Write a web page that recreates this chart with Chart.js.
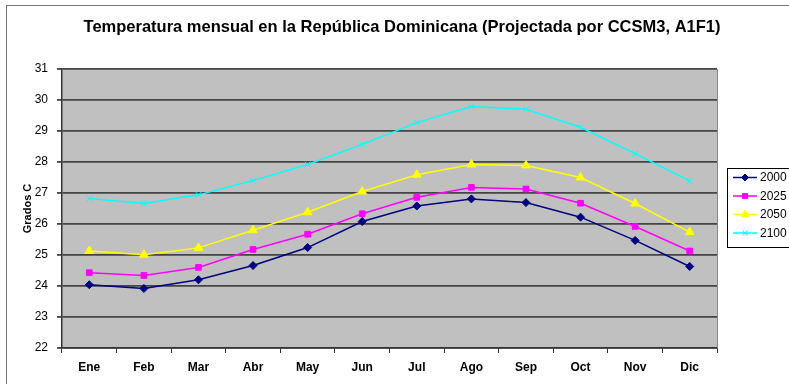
<!DOCTYPE html>
<html>
<head>
<meta charset="utf-8">
<script src="https://cdn.jsdelivr.net/npm/chart.js"></script>
<style>
  html, body { margin: 0; padding: 0; background: #fff; }
  #wrap { width: 789px; height: 384px; }
</style>
</head>
<body>
<div id="wrap"><canvas id="tempChart" width="789" height="384"></canvas></div>
<script>
const months = ["Ene", "Feb", "Mar", "Abr", "May", "Jun", "Jul", "Ago", "Sep", "Oct", "Nov", "Dic"];
const temp2000 = [24.04, 23.92, 24.2, 24.66, 25.24, 26.08, 26.58, 26.81, 26.69, 26.22, 25.47, 24.63];
const temp2025 = [24.43, 24.34, 24.6, 25.18, 25.67, 26.33, 26.86, 27.18, 27.13, 26.67, 25.92, 25.13];
const temp2050 = [25.13, 25.01, 25.23, 25.8, 26.38, 27.05, 27.59, 27.92, 27.89, 27.5, 26.66, 25.74];
const temp2100 = [26.82, 26.66, 26.94, 27.4, 27.92, 28.57, 29.27, 29.79, 29.7, 29.12, 28.27, 27.39];
const yMin = 22;
const yMax = 31;

Chart.defaults.font.family = "Arial, 'Liberation Sans', sans-serif";
Chart.defaults.color = "#000";

function series(label, values, color, style, radius) {
  return {
    label: label,
    data: values,
    yAxisID: "y",
    borderColor: color,
    backgroundColor: color,
    pointBackgroundColor: color,
    pointBorderColor: color,
    pointStyle: style,
    pointRadius: radius,
    pointBorderWidth: 1,
    borderWidth: 1.5,
    tension: 0,
  };
}

// grey plot background, outer frame and right edge of plot
const backdrop = {
  id: "backdrop",
  beforeDraw(chart) {
    const { ctx, chartArea: a } = chart;
    ctx.save();
    ctx.strokeStyle = "#777";
    ctx.lineWidth = 1;
    ctx.strokeRect(6.5, 5.5, 900, 900);
    ctx.fillStyle = "#c0c0c0";
    ctx.fillRect(a.left, a.top, a.right - a.left, a.bottom - a.top);
    ctx.restore();
  },
  afterDatasetsDraw(chart) {
    const { ctx, chartArea: a } = chart;
    ctx.save();
    ctx.strokeStyle = "#8a8a8a";
    ctx.lineWidth = 1;
    ctx.beginPath();
    ctx.moveTo(a.right + 0.5, a.top);
    ctx.lineTo(a.right + 0.5, a.bottom);
    ctx.stroke();
    ctx.restore();
  },
};

// legend box on the right, line + marker like the original
const boxLegend = {
  id: "boxLegend",
  afterDraw(chart) {
    const ctx = chart.ctx;
    const x0 = 727.5, y0 = 168.5, rowH = 18.5;
    ctx.save();
    ctx.strokeStyle = "#000";
    ctx.lineWidth = 1;
    ctx.strokeRect(x0, y0, 100, 79);
    ctx.font = "12px Arial, 'Liberation Sans', sans-serif";
    ctx.textBaseline = "middle";
    chart.data.datasets.forEach((ds, i) => {
      const y = y0 + 9 + i * rowH;
      ctx.strokeStyle = ds.borderColor;
      ctx.lineWidth = 1.5;
      ctx.beginPath();
      ctx.moveTo(733, y);
      ctx.lineTo(757, y);
      ctx.stroke();
      ctx.fillStyle = ds.pointBackgroundColor;
      ctx.strokeStyle = ds.pointBorderColor;
      ctx.lineWidth = 1;
      Chart.helpers.drawPoint(ctx, { pointStyle: ds.pointStyle, radius: ds.pointRadius - 0.5, rotation: 0, borderWidth: 1 }, 745, y);
      ctx.fillStyle = "#000";
      ctx.fillText(ds.label, 760, y + 0.5);
    });
    ctx.restore();
  },
};

const ctx = document.getElementById("tempChart").getContext("2d");

new Chart(ctx, {
  type: "line",
  data: {
    labels: months,
    datasets: [
      series("2000", temp2000, "#000080", "rectRot", 4),
      series("2025", temp2025, "#ff00ff", "rect", 4),
      series("2050", temp2050, "#ffff00", "triangle", 5),
      series("2100", temp2100, "#00ffff", "crossRot", 4),
    ],
  },
  options: {
    responsive: false,
    animation: false,
    devicePixelRatio: 1,
    layout: { padding: { left: 15, top: 0, right: 0, bottom: 0 } },
    plugins: {
      legend: { display: false },
      tooltip: { enabled: false },
      title: {
        display: true,
        text: "Temperatura mensual en la República Dominicana (Projectada por CCSM3, A1F1)",
        font: { size: 16.5, weight: "bold" },
        color: "#000",
        padding: { top: 18, bottom: 31.2 },
      },
    },
    scales: {
      x: {
        offset: true,
        grid: {
          offset: true,
          drawOnChartArea: false,
          drawTicks: true,
          tickLength: 5,
          color: "#333",
          lineWidth: 1,
        },
        border: { display: true, color: "#333", width: 1.5 },
        ticks: { font: { size: 12, weight: "bold" }, color: "#000", padding: 7, maxRotation: 0 },
        afterFit(scale) { scale.height = 36; },
      },
      y: {
        position: "left",
        min: yMin,
        max: yMax,
        ticks: { stepSize: 1, font: { size: 12 }, color: "#000", padding: 9 },
        grid: { color: "#454545", lineWidth: 1.8, drawTicks: true, tickLength: 5 },
        border: { display: true, color: "#333", width: 1.5 },
        title: {
          display: true,
          text: "Grados C",
          font: { size: 11, weight: "bold" },
          color: "#000",
          padding: { top: 6.4, bottom: 0 },
        },
        afterFit(scale) { scale.width = 47; },
      },
      // empty right-hand axis that just reserves room for the legend box
      legendSpace: {
        axis: "y",
        position: "right",
        min: yMin,
        max: yMax,
        ticks: { display: false },
        grid: { display: false, drawOnChartArea: false },
        border: { display: false },
        afterFit(scale) { scale.width = 72; },
      },
    },
  },
  plugins: [backdrop, boxLegend],
});
</script>
</body>
</html>
